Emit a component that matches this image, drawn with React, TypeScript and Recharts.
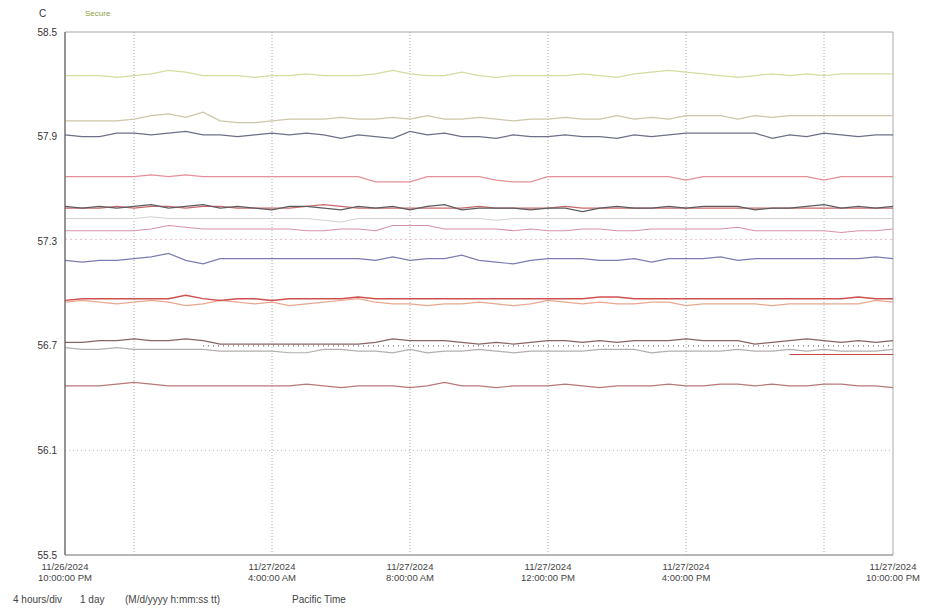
import React from "react";
import {
  LineChart,
  Line,
  XAxis,
  YAxis,
  ReferenceLine,
  ReferenceArea,
} from "recharts";

// hours after 11/26/2024 10:00 PM, one sample every 30 min
const stepHours = 0.5;

const yTicks = [55.5, 56.1, 56.7, 57.3, 57.9, 58.5];
const gridHours = [2, 6, 10, 14, 18, 22];
const xTickHours = [0, 6, 10, 14, 18, 24];
const xTickDates = ["11/26/2024", "11/27/2024", "11/27/2024", "11/27/2024", "11/27/2024", "11/27/2024"];
const xTickTimes = ["10:00:00 PM", "4:00:00 AM", "8:00:00 AM", "12:00:00 PM", "4:00:00 PM", "10:00:00 PM"];
const footTexts = ["4 hours/div", "1 day", "(M/d/yyyy h:mm:ss tt)", "Pacific Time"];

const secure = [
  58.25, 58.25, 58.25, 58.24, 58.25, 58.26, 58.28,
  58.27, 58.25, 58.25, 58.25, 58.24, 58.25, 58.25,
  58.26, 58.25, 58.25, 58.25, 58.26, 58.28, 58.26,
  58.25, 58.25, 58.27, 58.25, 58.24, 58.25, 58.25,
  58.25, 58.25, 58.26, 58.25, 58.24, 58.26, 58.27,
  58.28, 58.27, 58.26, 58.25, 58.24, 58.25, 58.26,
  58.25, 58.26, 58.25, 58.26, 58.26, 58.26, 58.26,
];
const beige = [
  57.99, 57.99, 57.99, 57.99, 58.0, 58.02, 58.03,
  58.01, 58.04, 57.99, 57.98, 57.98, 57.99, 58.0,
  58.0, 58.0, 58.01, 58.0, 58.0, 58.01, 58.0,
  58.02, 58.0, 58.0, 58.01, 58.0, 57.99, 58.0,
  58.0, 58.01, 58.0, 58.0, 58.02, 58.0, 58.01,
  58.0, 58.02, 58.02, 58.02, 58.0, 58.02, 58.01,
  58.02, 58.02, 58.02, 58.02, 58.02, 58.02, 58.02,
];
const slate = [
  57.91, 57.9, 57.9, 57.92, 57.92, 57.91, 57.92,
  57.93, 57.91, 57.91, 57.9, 57.91, 57.92, 57.91,
  57.92, 57.91, 57.89, 57.91, 57.9, 57.89, 57.93,
  57.91, 57.92, 57.9, 57.9, 57.89, 57.91, 57.9,
  57.9, 57.91, 57.9, 57.9, 57.89, 57.91, 57.9,
  57.91, 57.92, 57.92, 57.92, 57.92, 57.92, 57.89,
  57.91, 57.9, 57.92, 57.91, 57.9, 57.91, 57.91,
];
const pinkRed = [
  57.67, 57.67, 57.67, 57.67, 57.67, 57.68, 57.67,
  57.68, 57.67, 57.67, 57.67, 57.67, 57.67, 57.67,
  57.67, 57.67, 57.67, 57.67, 57.64, 57.64, 57.64,
  57.67, 57.67, 57.67, 57.67, 57.65, 57.64, 57.64,
  57.67, 57.67, 57.67, 57.67, 57.67, 57.67, 57.67,
  57.67, 57.65, 57.67, 57.67, 57.67, 57.67, 57.67,
  57.67, 57.67, 57.65, 57.67, 57.67, 57.67, 57.67,
];
const darkGrey = [
  57.5, 57.49, 57.5, 57.49, 57.5, 57.51, 57.49,
  57.5, 57.51, 57.49, 57.5, 57.49, 57.48, 57.5,
  57.5, 57.49, 57.48, 57.5, 57.49, 57.5, 57.48,
  57.5, 57.51, 57.48, 57.49, 57.49, 57.49, 57.48,
  57.49, 57.49, 57.47, 57.49, 57.5, 57.49, 57.49,
  57.5, 57.49, 57.5, 57.5, 57.5, 57.48, 57.49,
  57.49, 57.5, 57.51, 57.49, 57.5, 57.49, 57.5,
];
const redMid = [
  57.49, 57.49, 57.49, 57.5, 57.49, 57.5, 57.5,
  57.49, 57.5, 57.5, 57.49, 57.49, 57.49, 57.49,
  57.5, 57.51, 57.5, 57.49, 57.49, 57.49, 57.49,
  57.49, 57.49, 57.49, 57.5, 57.49, 57.49, 57.49,
  57.49, 57.5, 57.49, 57.49, 57.49, 57.49, 57.49,
  57.49, 57.49, 57.49, 57.49, 57.49, 57.49, 57.49,
  57.49, 57.49, 57.49, 57.49, 57.49, 57.49, 57.49,
];
const lightGrey = [
  57.43, 57.43, 57.43, 57.43, 57.43, 57.44, 57.43,
  57.43, 57.43, 57.43, 57.43, 57.43, 57.43, 57.43,
  57.43, 57.42, 57.41, 57.43, 57.43, 57.43, 57.43,
  57.43, 57.43, 57.43, 57.43, 57.42, 57.43, 57.43,
  57.43, 57.43, 57.43, 57.43, 57.43, 57.43, 57.43,
  57.43, 57.43, 57.43, 57.43, 57.43, 57.43, 57.43,
  57.43, 57.43, 57.43, 57.43, 57.43, 57.43, 57.43,
];
const pink = [
  57.36, 57.36, 57.36, 57.36, 57.36, 57.37, 57.39,
  57.38, 57.37, 57.37, 57.37, 57.37, 57.37, 57.37,
  57.36, 57.36, 57.37, 57.37, 57.36, 57.39, 57.39,
  57.39, 57.37, 57.37, 57.37, 57.37, 57.36, 57.37,
  57.36, 57.36, 57.37, 57.37, 57.36, 57.36, 57.37,
  57.37, 57.37, 57.37, 57.37, 57.38, 57.36, 57.36,
  57.36, 57.36, 57.36, 57.35, 57.36, 57.36, 57.37,
];
const pinkDotted = [
  57.31, 57.31, 57.31, 57.31, 57.31, 57.31, 57.31,
  57.31, 57.31, 57.31, 57.31, 57.31, 57.31, 57.31,
  57.31, 57.31, 57.31, 57.31, 57.31, 57.31, 57.31,
  57.31, 57.31, 57.31, 57.31, 57.31, 57.31, 57.31,
  57.31, 57.31, 57.31, 57.31, 57.31, 57.31, 57.31,
  57.31, 57.31, 57.31, 57.31, 57.31, 57.31, 57.31,
  57.31, 57.31, 57.31, 57.31, 57.31, 57.31, 57.31,
];
const blue = [
  57.19, 57.18, 57.19, 57.19, 57.2, 57.21, 57.23,
  57.19, 57.17, 57.2, 57.2, 57.2, 57.2, 57.2,
  57.2, 57.2, 57.2, 57.2, 57.19, 57.21, 57.19,
  57.2, 57.2, 57.22, 57.19, 57.18, 57.17, 57.19,
  57.2, 57.2, 57.2, 57.19, 57.19, 57.2, 57.18,
  57.2, 57.2, 57.2, 57.21, 57.19, 57.2, 57.2,
  57.2, 57.2, 57.2, 57.2, 57.2, 57.21, 57.2,
];
const red = [
  56.96, 56.97, 56.97, 56.97, 56.97, 56.97, 56.97,
  56.99, 56.97, 56.96, 56.97, 56.97, 56.96, 56.97,
  56.97, 56.97, 56.97, 56.98, 56.97, 56.97, 56.97,
  56.97, 56.97, 56.97, 56.97, 56.97, 56.97, 56.97,
  56.97, 56.97, 56.97, 56.98, 56.98, 56.97, 56.97,
  56.97, 56.97, 56.97, 56.97, 56.97, 56.97, 56.97,
  56.97, 56.97, 56.97, 56.97, 56.98, 56.97, 56.97,
];
const salmon = [
  56.95, 56.96, 56.95, 56.94, 56.95, 56.96, 56.95,
  56.93, 56.94, 56.96, 56.95, 56.94, 56.95, 56.93,
  56.94, 56.95, 56.96, 56.97, 56.95, 56.94, 56.94,
  56.93, 56.94, 56.94, 56.95, 56.94, 56.93, 56.94,
  56.96, 56.95, 56.94, 56.95, 56.94, 56.94, 56.95,
  56.95, 56.93, 56.94, 56.94, 56.94, 56.94, 56.93,
  56.94, 56.94, 56.94, 56.94, 56.94, 56.96, 56.95,
];
const brownGrey = [
  56.72, 56.72, 56.73, 56.73, 56.74, 56.73, 56.73,
  56.74, 56.73, 56.71, 56.71, 56.71, 56.71, 56.71,
  56.71, 56.71, 56.71, 56.71, 56.72, 56.74, 56.73,
  56.73, 56.73, 56.72, 56.71, 56.72, 56.71, 56.72,
  56.73, 56.73, 56.72, 56.73, 56.72, 56.73, 56.73,
  56.73, 56.74, 56.73, 56.73, 56.73, 56.71, 56.72,
  56.73, 56.74, 56.73, 56.72, 56.73, 56.72, 56.73,
];
const darkDotted = [
  null, null, null, null, null, null, null,
  null, 56.7, 56.7, 56.7, 56.7, 56.7, 56.7,
  56.7, 56.7, 56.7, 56.7, 56.7, 56.7, 56.7,
  56.7, 56.7, 56.7, 56.7, 56.7, 56.7, 56.7,
  56.7, 56.7, 56.7, 56.7, 56.7, 56.7, 56.7,
  56.7, 56.7, 56.7, 56.7, 56.7, 56.7, 56.7,
  56.7, 56.7, 56.7, 56.7, 56.7, 56.7, 56.7,
];
const greyLow = [
  56.69, 56.68, 56.68, 56.69, 56.68, 56.68, 56.68,
  56.68, 56.68, 56.67, 56.67, 56.67, 56.67, 56.66,
  56.66, 56.68, 56.68, 56.67, 56.67, 56.66, 56.68,
  56.66, 56.67, 56.67, 56.68, 56.67, 56.66, 56.67,
  56.67, 56.67, 56.67, 56.68, 56.68, 56.68, 56.66,
  56.67, 56.67, 56.67, 56.67, 56.68, 56.67, 56.67,
  56.68, 56.67, 56.68, 56.67, 56.67, 56.67, 56.68,
];
const redLate = [
  null, null, null, null, null, null, null,
  null, null, null, null, null, null, null,
  null, null, null, null, null, null, null,
  null, null, null, null, null, null, null,
  null, null, null, null, null, null, null,
  null, null, null, null, null, null, null,
  56.65, 56.65, 56.65, 56.65, 56.65, 56.65, 56.65,
];
const brownRed = [
  56.47, 56.47, 56.47, 56.48, 56.49, 56.48, 56.47,
  56.47, 56.47, 56.47, 56.47, 56.47, 56.47, 56.47,
  56.48, 56.47, 56.46, 56.47, 56.47, 56.47, 56.46,
  56.47, 56.49, 56.47, 56.47, 56.46, 56.47, 56.47,
  56.47, 56.48, 56.47, 56.46, 56.47, 56.47, 56.47,
  56.48, 56.47, 56.47, 56.48, 56.48, 56.47, 56.48,
  56.47, 56.47, 56.48, 56.48, 56.47, 56.47, 56.46,
];
const greyBase = [
  56.1, 56.1, 56.1, 56.1, 56.1, 56.1, 56.1,
  56.1, 56.1, 56.1, 56.1, 56.1, 56.1, 56.1,
  56.1, 56.1, 56.1, 56.1, 56.1, 56.1, 56.1,
  56.1, 56.1, 56.1, 56.1, 56.1, 56.1, 56.1,
  56.1, 56.1, 56.1, 56.1, 56.1, 56.1, 56.1,
  56.1, 56.1, 56.1, 56.1, 56.1, 56.1, 56.1,
  56.1, 56.1, 56.1, 56.1, 56.1, 56.1, 56.1,
];

const series = [
  { key: "greyBase", values: greyBase, color: "#bcbcbc", dash: "1 3", width: 1 },
  { key: "brownRed", values: brownRed, color: "#b87878", dash: undefined, width: 1.2 },
  { key: "redLate", values: redLate, color: "#c84848", dash: undefined, width: 1.2 },
  { key: "greyLow", values: greyLow, color: "#b4aeb0", dash: undefined, width: 1.2 },
  { key: "darkDotted", values: darkDotted, color: "#707070", dash: "1 4", width: 1.2 },
  { key: "brownGrey", values: brownGrey, color: "#8a6464", dash: undefined, width: 1.2 },
  { key: "salmon", values: salmon, color: "#e8a890", dash: undefined, width: 1.2 },
  { key: "red", values: red, color: "#d05050", dash: undefined, width: 1.3 },
  { key: "blue", values: blue, color: "#7c7cb4", dash: undefined, width: 1.2 },
  { key: "pinkDotted", values: pinkDotted, color: "#e8c0c8", dash: "2 3", width: 1 },
  { key: "pink", values: pink, color: "#d890a8", dash: undefined, width: 1.2 },
  { key: "lightGrey", values: lightGrey, color: "#d4d0d0", dash: undefined, width: 1 },
  { key: "redMid", values: redMid, color: "#c86868", dash: undefined, width: 1.2 },
  { key: "darkGrey", values: darkGrey, color: "#5c5c60", dash: undefined, width: 1.2 },
  { key: "pinkRed", values: pinkRed, color: "#e49098", dash: undefined, width: 1.2 },
  { key: "slate", values: slate, color: "#6c7088", dash: undefined, width: 1.2 },
  { key: "beige", values: beige, color: "#cdc6a8", dash: undefined, width: 1.2 },
  { key: "secure", values: secure, color: "#d6dca0", dash: undefined, width: 1.2 },
];

const data = secure.map((_, i) => {
  const row: Record<string, number | null> = { h: i * stepHours };
  series.forEach((s) => {
    const v = s.values[i];
    row[s.key] = v === undefined ? null : v;
  });
  return row;
});

const font = '"Liberation Sans", Arial, sans-serif';
const footLefts = [5, 72, 117, 284];

const XTick = (props: any) => {
  const { x, y, payload } = props;
  const idx = xTickHours.indexOf(payload.value);
  return (
    <g transform={`translate(${x},${y})`}>
      <text textAnchor="middle" fontSize={9.5} fill="#444" fontFamily={font}>
        <tspan x={0} dy={13}>
          {xTickDates[idx]}
        </tspan>
        <tspan x={0} dy={11}>
          {xTickTimes[idx]}
        </tspan>
      </text>
    </g>
  );
};

export default function App() {
  return (
    <div style={{ position: "relative", width: 925, height: 600, background: "#fff", fontFamily: font }}>
      <div style={{ position: "absolute", left: 31, top: 0, fontSize: 10, color: "#333" }}>C</div>
      <div style={{ position: "absolute", left: 77, top: 1, fontSize: 8, color: "#8c9a40" }}>Secure</div>
      <LineChart
        width={925}
        height={600}
        data={data}
        margin={{ top: 24, right: 40, bottom: 0, left: 0 }}
      >
        <XAxis
          dataKey="h"
          type="number"
          domain={[0, 24]}
          ticks={xTickHours}
          tick={<XTick />}
          tickLine={false}
          tickSize={0}
          height={53}
          axisLine={{ stroke: "#999" }}
          interval={0}
        />
        <YAxis
          type="number"
          domain={[55.5, 58.5]}
          ticks={yTicks}
          width={57}
          tickLine={false}
          tickMargin={2}
          axisLine={{ stroke: "#555" }}
          tickFormatter={(v: number) => v.toFixed(1)}
          tick={{ fontSize: 10, fill: "#333", fontFamily: font }}
          interval={0}
        />
        <ReferenceArea x1={0} x2={24} y1={55.5} y2={58.5} fill="none" stroke="#aaa" />
        {gridHours.map((h) => (
          <ReferenceLine key={h} x={h} stroke="#a8a8a8" strokeDasharray="1 2" />
        ))}
        {series.map((s) => (
          <Line
            key={s.key}
            dataKey={s.key}
            type="linear"
            stroke={s.color}
            strokeWidth={s.width}
            strokeDasharray={s.dash}
            dot={false}
            activeDot={false}
            isAnimationActive={false}
            connectNulls={false}
          />
        ))}
      </LineChart>
      {footTexts.map((t, i) => (
        <div
          key={t}
          style={{
            position: "absolute",
            left: footLefts[i],
            top: 586,
            fontSize: 10,
            color: "#444",
            whiteSpace: "pre",
          }}
        >
          {t}
        </div>
      ))}
    </div>
  );
}
